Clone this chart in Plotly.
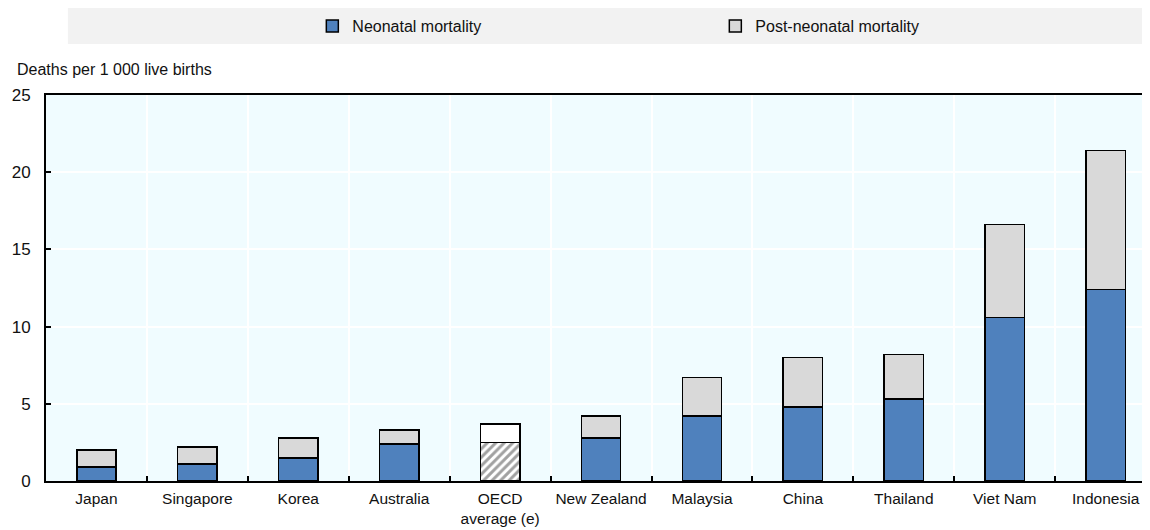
import plotly.graph_objects as go

countries = ["Japan", "Singapore", "Korea", "Australia", "OECD<br>average (e)",
             "New Zealand", "Malaysia", "China", "Thailand", "Viet Nam", "Indonesia"]
neonatal = [0.9, 1.1, 1.5, 2.4, 2.5, 2.8, 4.2, 4.8, 5.3, 10.6, 12.4]
total = [2.0, 2.2, 2.8, 3.3, 3.7, 4.2, 6.7, 8.0, 8.2, 16.6, 21.4]
post_neonatal = [round(t - n, 2) for t, n in zip(total, neonatal)]

FONT = "Liberation Sans, Arial, sans-serif"
BLUE = "#4F81BD"
GREY = "#D9D9D9"
oecd_idx = 4

neo_colors = [("white" if i == oecd_idx else BLUE) for i in range(len(countries))]
neo_shapes = [("/" if i == oecd_idx else "") for i in range(len(countries))]
post_colors = [("white" if i == oecd_idx else GREY) for i in range(len(countries))]

fig = go.Figure()
fig.add_trace(go.Bar(
    x=countries, y=neonatal, name="Neonatal mortality",
    marker=dict(color=neo_colors, line=dict(color="black", width=1.5),
                pattern=dict(shape=neo_shapes, fgcolor="#222222", size=6, solidity=0.5)),
    width=0.39,
))
fig.add_trace(go.Bar(
    x=countries, y=post_neonatal, name="Post-neonatal mortality",
    marker=dict(color=post_colors, line=dict(color="black", width=1.5)),
    width=0.39,
))

fig.update_layout(
    barmode="stack",
    width=1134, height=522,
    margin=dict(l=38, r=0, t=87, b=49, autoexpand=False),
    paper_bgcolor="white",
    plot_bgcolor="#F0FCFF",
    font=dict(family=FONT, size=16, color="#111111"),
    legend=dict(orientation="h", x=0.243, xanchor="left", y=1.1788, yanchor="middle",
                bgcolor="rgba(0,0,0,0)", font=dict(size=16), entrywidth=358,
                traceorder="normal"),
    shapes=[dict(type="rect", xref="paper", yref="paper", x0=0.02, x1=1.0,
                 y0=1.1321, y1=1.2254, fillcolor="#F2F2F2", line=dict(width=0),
                 layer="below")],
    annotations=[dict(text="Deaths per 1 000 live births", xref="paper", yref="paper",
                      x=-0.028, y=1.065, xanchor="left", yanchor="middle", showarrow=False,
                      font=dict(size=16, family=FONT))],
)
fig.update_xaxes(
    type="category", range=[-0.5, 10.36], tickson="boundaries", tickangle=0,
    automargin=False, ticklabelstandoff=2,
    ticks="inside", ticklen=5, tickcolor="black", tickwidth=1.5,
    showgrid=True, gridcolor="white", gridwidth=1.5,
    showline=True, linecolor="black", linewidth=2, mirror=True,
    tickfont=dict(size=15.5, family=FONT),
)
fig.update_yaxes(
    range=[0, 25], dtick=5, ticks="inside", ticklen=5, tickcolor="black", tickwidth=1.5,
    automargin=False, ticklabelstandoff=10,
    showgrid=True, gridcolor="white", gridwidth=1.5,
    showline=True, linecolor="black", linewidth=2, zeroline=False,
    tickfont=dict(size=17, family=FONT),
)

fig.write_html("out.html")
